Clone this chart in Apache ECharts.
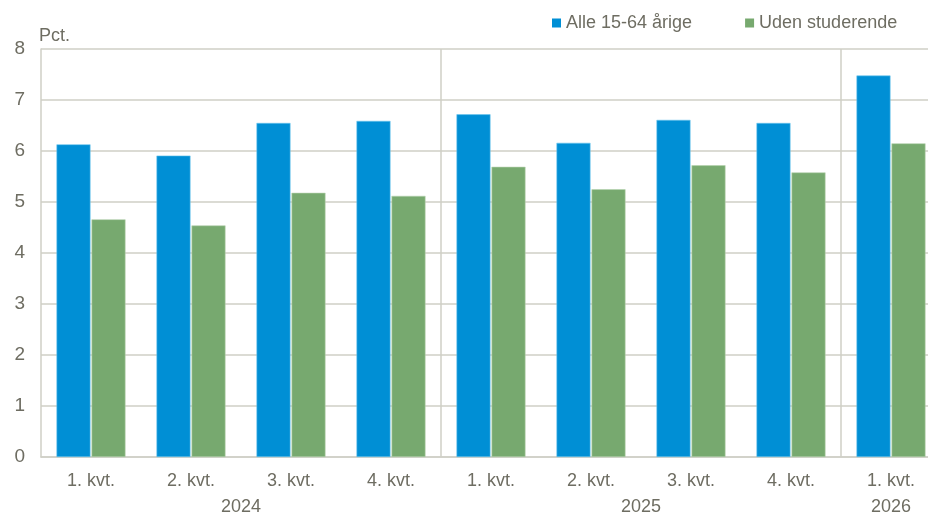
<!DOCTYPE html>
<html>
<head>
<meta charset="utf-8">
<script src="https://cdn.jsdelivr.net/npm/echarts@6/dist/echarts.min.js"></script>
<style>html,body{margin:0;padding:0;background:#fff}#c{width:928px;height:515px}</style>
</head>
<body>
<div id="c"></div>
<script>
const categories = ['1. kvt.','2. kvt.','3. kvt.','4. kvt.','1. kvt.','2. kvt.','3. kvt.','4. kvt.','1. kvt.'];
const years = ['2024','2025','2026'];
const quartersPerYear = [4,4,1];
const seriesNames = ['Alle 15-64 årige','Uden studerende'];
const alle = [6.13, 5.91, 6.55, 6.59, 6.72, 6.16, 6.61, 6.55, 7.48];
const uden = [4.66, 4.54, 5.18, 5.12, 5.69, 5.25, 5.72, 5.58, 6.15];
const yTicks = [0,1,2,3,4,5,6,7,8];

const FONT = '"Liberation Sans Narrow", "Arial Narrow", "Liberation Sans", Arial, sans-serif';
const TXT = '#6e6d62';
const GRID = '#cfcfc6';

// year label centres and separators from group sizes
const yearCenters = [];
const boundaries = [];
let acc = 0;
quartersPerYear.forEach((n, i) => {
  yearCenters.push(acc + n / 2);
  acc += n;
  if (i < quartersPerYear.length - 1) boundaries.push(acc);
});
const yearMap = {};
yearCenters.forEach((c, i) => { yearMap[c] = years[i]; });

const chart = echarts.init(document.getElementById('c'), null, {renderer: 'canvas'});
chart.setOption({
  animation: false,
  backgroundColor: '#fff',
  textStyle: {fontFamily: FONT},
  legend: {
    data: seriesNames,
    left: 547, top: 9,
    itemWidth: 9, itemHeight: 9, itemGap: 53,
    icon: 'rect',
    itemStyle: {borderWidth: 0},
    textStyle: {fontFamily: FONT, fontSize: 18, color: TXT}
  },
  grid: {left: 41, top: 49, width: 900, height: 408, containLabel: false, outerBoundsMode: 'none'},
  xAxis: [{
    type: 'category',
    data: categories,
    axisTick: {show: false},
    axisLine: {lineStyle: {color: GRID, width: 1.5}},
    axisLabel: {fontFamily: FONT, fontSize: 18, color: TXT, margin: 15, interval: 0},
    splitLine: {
      show: true,
      interval: function (idx) { return boundaries.indexOf(idx) >= 0; },
      lineStyle: {color: GRID, width: 1.5}
    }
  }, {
    type: 'value',
    min: 0, max: categories.length,
    position: 'bottom',
    offset: 26,
    axisLine: {show: false},
    axisTick: {show: false},
    splitLine: {show: false},
    axisLabel: {
      customValues: yearCenters,
      formatter: function (v) { return yearMap[v] || ''; },
      fontFamily: FONT, fontSize: 18, color: TXT, margin: 15,
      showMinLabel: true, showMaxLabel: true
    }
  }],
  yAxis: {
    type: 'value',
    min: yTicks[0], max: yTicks[yTicks.length - 1], interval: 1,
    name: 'Pct.',
    nameLocation: 'end',
    nameGap: 4,
    nameTextStyle: {fontFamily: FONT, fontSize: 18, color: TXT, align: 'left', padding: [0,0,0,-2]},
    axisLine: {show: true, lineStyle: {color: GRID, width: 1.5}},
    axisTick: {show: false},
    axisLabel: {fontFamily: FONT, fontSize: 19, color: TXT, margin: 16},
    splitLine: {show: true, lineStyle: {color: GRID, width: 1.5}}
  },
  series: [{
    name: seriesNames[0],
    type: 'bar',
    xAxisIndex: 0,
    data: alle,
    barWidth: 34,
    barGap: '3%',
    itemStyle: {color: '#008fd5', borderColor: '#6cc6ee', borderWidth: 0.6}
  }, {
    name: seriesNames[1],
    type: 'bar',
    xAxisIndex: 0,
    data: uden,
    barWidth: 34,
    barGap: '3%',
    itemStyle: {color: '#77a96f', borderColor: '#b5d2ae', borderWidth: 0.6}
  }]
});
</script>
</body>
</html>
